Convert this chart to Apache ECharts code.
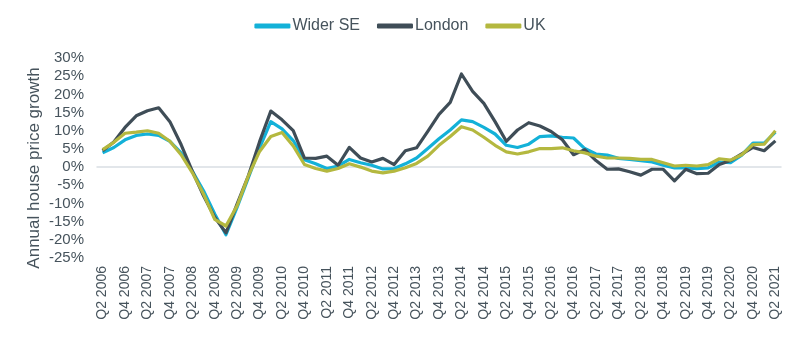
<!DOCTYPE html>
<html>
<head>
<meta charset="utf-8">
<script src="https://cdn.jsdelivr.net/npm/echarts@6/dist/echarts.min.js"></script>
<style>html,body{margin:0;padding:0;background:#fff}#c{width:800px;height:338px}</style>
</head>
<body>
<div id="c"></div>
<script>
var categories = [
'Q2 2006','Q3 2006','Q4 2006','Q1 2007','Q2 2007','Q3 2007','Q4 2007','Q1 2008','Q2 2008','Q3 2008','Q4 2008',
'Q1 2009','Q2 2009','Q3 2009','Q4 2009','Q1 2010','Q2 2010','Q3 2010','Q4 2010',
'Q1 2011','Q2 2011','Q3 2011','Q4 2011','Q1 2012','Q2 2012','Q3 2012','Q4 2012',
'Q1 2013','Q2 2013','Q3 2013','Q4 2013','Q1 2014','Q2 2014','Q3 2014','Q4 2014',
'Q1 2015','Q2 2015','Q3 2015','Q4 2015','Q1 2016','Q2 2016','Q3 2016','Q4 2016',
'Q1 2017','Q2 2017','Q3 2017','Q4 2017','Q1 2018','Q2 2018','Q3 2018','Q4 2018',
'Q1 2019','Q2 2019','Q3 2019','Q4 2019','Q1 2020','Q2 2020','Q3 2020','Q4 2020',
'Q1 2021','Q2 2021'];

var widerSE = [3.9,5.4,7.5,8.7,9.1,8.7,7.1,3.9,-1.1,-6.5,-12.9,-18.6,-11.0,-2.9,5.3,12.5,10.5,7.3,2.0,
0.9,-0.4,0.3,2.1,1.2,0.5,-0.5,-0.4,0.9,2.5,5.1,7.8,10.2,13.0,12.5,10.9,9.1,6.0,5.4,6.3,8.4,8.6,
8.2,8.0,5.1,3.6,3.3,2.4,2.1,1.8,1.4,0.5,-0.2,-0.2,-0.4,-0.2,1.4,1.2,3.3,6.6,6.6,9.6];

var london = [4.5,6.9,10.9,14.1,15.5,16.3,12.5,6.2,-1.1,-7.9,-13.8,-18.1,-10.1,-2.4,7.0,15.4,13.0,10.0,2.5,
2.4,3.0,0.5,5.4,2.5,1.4,2.4,0.7,4.5,5.3,9.8,14.5,17.8,25.6,20.8,17.5,12.5,7.1,10.2,12.2,11.3,9.8,
7.5,3.4,4.8,1.8,-0.6,-0.5,-1.3,-2.2,-0.6,-0.6,-3.8,-0.6,-1.8,-1.7,0.7,1.8,3.6,5.4,4.5,7.2];

var uk = [4.8,6.8,9.3,9.6,10.0,9.3,7.1,3.4,-1.5,-7.4,-14.4,-16.2,-10.6,-2.4,4.3,8.4,9.5,5.8,0.7,
-0.4,-1.1,-0.4,0.9,0.0,-1.1,-1.6,-1.1,-0.2,1.0,3.0,6.0,8.4,11.1,10.2,8.2,6.0,4.2,3.6,4.2,5.1,5.1,
5.3,4.5,3.9,3.0,2.5,2.5,2.4,2.1,2.1,1.2,0.3,0.5,0.3,0.7,2.3,1.9,3.4,6.2,6.3,10.0];

var yTicks = {min: -25, max: 30, interval: 5};
var yTitle = 'Annual house price growth';

var chart = echarts.init(document.getElementById('c'), null, {renderer: 'canvas'});
var font = 'Liberation Sans, Arial, sans-serif';
var txt = '#46535c';
function line(name, data, color) {
  return {name: name, type: 'line', data: data, symbol: 'none', smooth: false,
    lineStyle: {color: color, width: 3.2, join: 'round'}, itemStyle: {color: color}, z: 2};
}
chart.setOption({
  animation: false,
  textStyle: {fontFamily: font},
  legend: {
    top: 13, left: 'center', itemWidth: 36, itemHeight: 5, itemGap: 17, icon: 'roundRect',
    textStyle: {color: txt, fontSize: 16, fontFamily: font, padding: [0,0,0,-3]},
    data: ['Wider SE', 'London', 'UK']
  },
  grid: {left: 97, right: 19, top: 58, bottom: 80},
  xAxis: {
    type: 'category', data: categories, boundaryGap: true,
    axisLine: {show: true, onZero: true, lineStyle: {color: '#d9dee3', width: 1.5}},
    axisTick: {show: false},
    axisLabel: {interval: 1, rotate: 90, color: txt, fontSize: 14, fontFamily: font, margin: 8}
  },
  yAxis: {
    type: 'value', min: yTicks.min, max: yTicks.max, interval: yTicks.interval,
    axisLine: {show: false}, axisTick: {show: false}, splitLine: {show: false},
    axisLabel: {formatter: '{value}%', color: txt, fontSize: 15, fontFamily: font, margin: 13}
  },
  graphic: [{
    type: 'text', x: 34, y: 168, rotation: Math.PI / 2,
    style: {text: yTitle, fill: txt, fontSize: 17, fontFamily: font, align: 'center', verticalAlign: 'middle'}
  }],
  series: [
    line('Wider SE', widerSE, '#13b1d8'),
    line('London', london, '#3f4d57'),
    line('UK', uk, '#b4b83f')
  ]
});
</script>
</body>
</html>
